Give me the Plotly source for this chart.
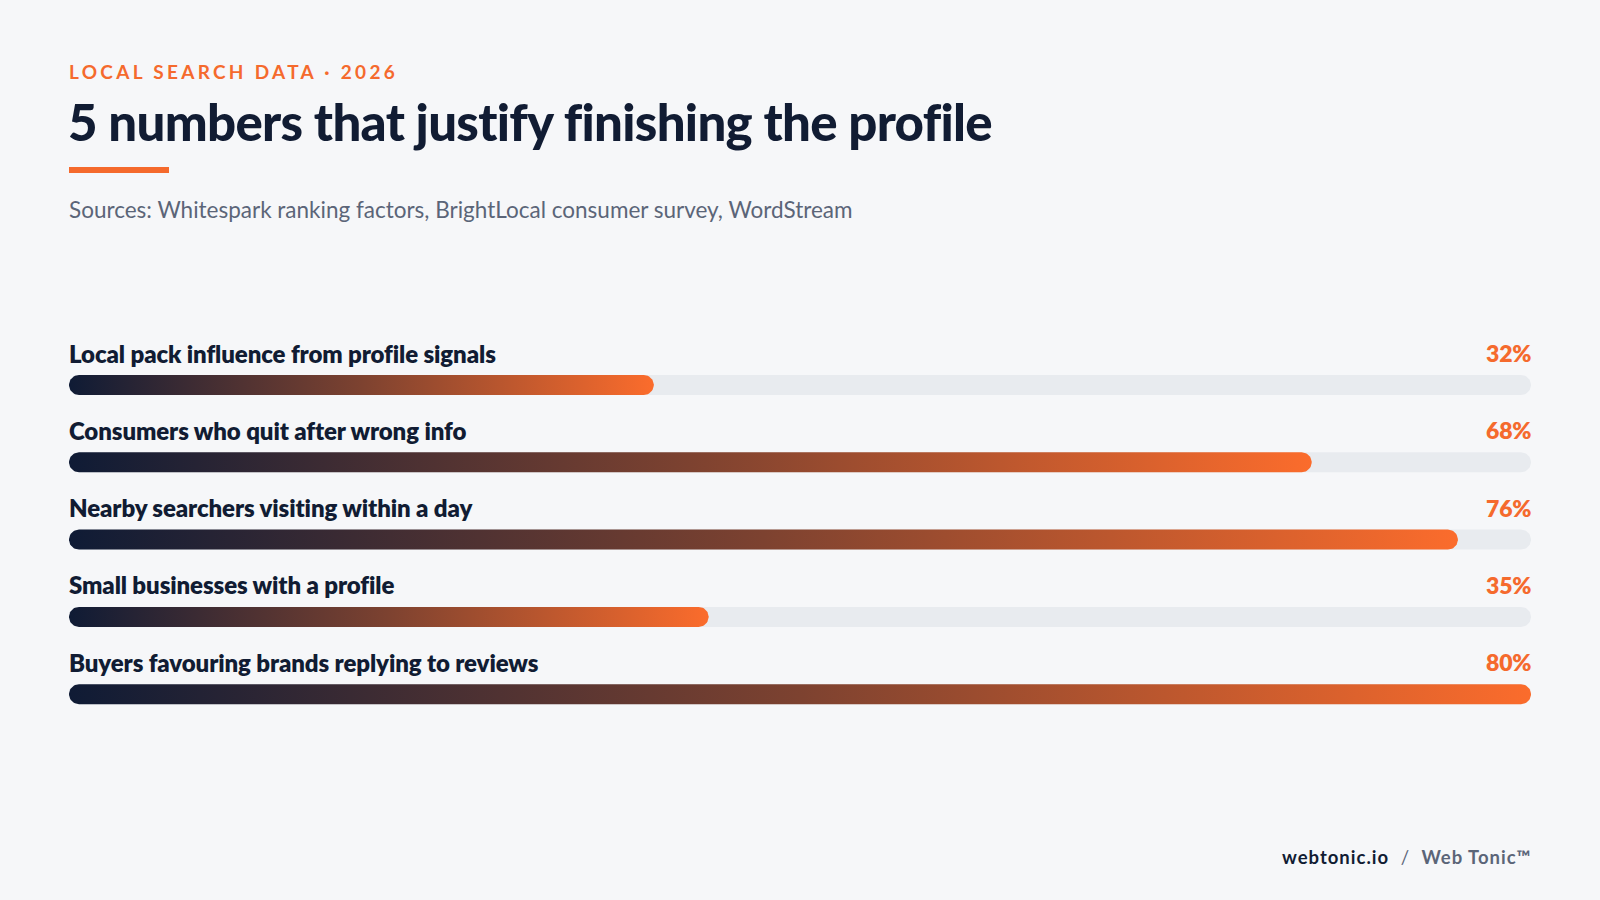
import numpy as np
import plotly.graph_objects as go

# ---------------- data ----------------
categories = [
    "Local pack influence from profile signals",
    "Consumers who quit after wrong info",
    "Nearby searchers visiting within a day",
    "Small businesses with a profile",
    "Buyers favouring brands replying to reviews",
]
values = [32, 68, 76, 35, 80]
value_labels = ["32%", "68%", "76%", "35%", "80%"]
scale_max = 80

eyebrow = "LOCAL SEARCH DATA · 2026"
title = "5 numbers that justify finishing the profile"
subtitle = "Sources: Whitespark ranking factors, BrightLocal consumer survey, WordStream"

# ---------------- style ----------------
W, H = 1600, 900
BG = "#f6f7f9"
NAVY = "#111c33"
ORANGE = "#f56a2d"
TRACK = "#e8ebef"
GRAY = "#5b6578"
FONT = "Lato"

X0_PX, X1_PX = 69, 1531
ROW0_PX, ROW_STEP = 385, 77.3
BAR_R = 10  # half bar height in px

px_per_x = (X1_PX - X0_PX) / scale_max
y_top = -ROW0_PX / ROW_STEP
y_bot = y_top + H / ROW_STEP


def stadium(x0, x1, yc, r_px, n=24):
    rx = r_px / px_per_x
    ry = r_px / ROW_STEP
    t = np.linspace(-np.pi / 2, np.pi / 2, n)
    xr = (x1 - rx) + rx * np.cos(t)
    yr = yc + ry * np.sin(t)
    t2 = np.linspace(np.pi / 2, 3 * np.pi / 2, n)
    xl = (x0 + rx) + rx * np.cos(t2)
    yl = yc + ry * np.sin(t2)
    xs = np.concatenate([xr, xl, xr[:1]])
    ys = np.concatenate([yr, yl, yr[:1]])
    return xs, ys


def ls(text, px):
    return f"<span style='letter-spacing:{px}px'>{text}</span>"


fig = go.Figure()

for i, (cat, v) in enumerate(zip(categories, values)):
    tx, ty = stadium(0, scale_max, i, BAR_R)
    fig.add_trace(go.Scatter(
        x=tx, y=ty, mode="lines", fill="toself", fillcolor=TRACK,
        line=dict(width=0, color=TRACK), hoverinfo="skip", showlegend=False,
    ))
    bx, by = stadium(0, v, i, BAR_R)
    fig.add_trace(go.Scatter(
        x=bx, y=by, mode="lines", fill="toself",
        fillgradient=dict(type="horizontal",
                          colorscale=[[0, "#0f1b35"], [0.5, "#7d4230"], [1, "#fb6c2c"]]),
        line=dict(width=0, color=ORANGE), hoverinfo="skip", showlegend=False,
        name=cat,
    ))

annotations = []
for i, (cat, lab) in enumerate(zip(categories, value_labels)):
    annotations.append(dict(
        x=0, y=i, xref="x", yref="y", text=ls(cat, -0.1), showarrow=False,
        xanchor="left", yanchor="middle", yshift=32, xshift=-2,
        font=dict(family=FONT, size=24, color=NAVY, weight=800),
    ))
    annotations.append(dict(
        x=scale_max, y=i, xref="x", yref="y", text=ls(lab, -0.2), showarrow=False,
        xanchor="right", yanchor="middle", yshift=32, xshift=2,
        font=dict(family=FONT, size=23, color=ORANGE, weight=800),
    ))


def py(pix):
    return 1 - pix / H


annotations += [
    dict(x=X0_PX / W, y=py(71), xref="paper", yref="paper", showarrow=False,
         text=ls(eyebrow, 3.3), xanchor="left", yanchor="middle", xshift=-2,
         font=dict(family=FONT, size=19, color=ORANGE, weight=700)),
    dict(x=X0_PX / W, y=py(122), xref="paper", yref="paper", showarrow=False,
         text=ls(title, -0.7), xanchor="left", yanchor="middle", xshift=-3,
         font=dict(family=FONT, size=51, color=NAVY, weight=900)),
    dict(x=X0_PX / W, y=py(209), xref="paper", yref="paper", showarrow=False,
         text=subtitle, xanchor="left", yanchor="middle", xshift=-2,
         font=dict(family=FONT, size=22.5, color=GRAY)),
    dict(x=X1_PX / W, y=py(857), xref="paper", yref="paper", showarrow=False,
         text=ls(f"<span style='color:{NAVY}'><b>webtonic.io</b></span>  /  <b>Web Tonic™</b>", 1.0),
         xanchor="right", yanchor="middle", xshift=2,
         font=dict(family=FONT, size=18.5, color=GRAY)),
]

fig.update_layout(
    width=W, height=H,
    margin=dict(l=0, r=0, t=0, b=0),
    paper_bgcolor=BG, plot_bgcolor=BG,
    xaxis=dict(domain=[X0_PX / W, X1_PX / W], range=[0, scale_max], visible=False,
               fixedrange=True),
    yaxis=dict(domain=[0, 1], range=[y_bot, y_top], visible=False, fixedrange=True),
    annotations=annotations,
    shapes=[dict(type="rect", xref="paper", yref="paper",
                 x0=X0_PX / W, x1=169 / W, y0=py(173), y1=py(167),
                 fillcolor=ORANGE, line=dict(width=0))],
    showlegend=False,
)

fig.write_html(
    "out.html",
    config={"displayModeBar": False, "staticPlot": True},
    post_script="document.body.style.margin='0';document.body.style.background='%s';" % BG,
)
